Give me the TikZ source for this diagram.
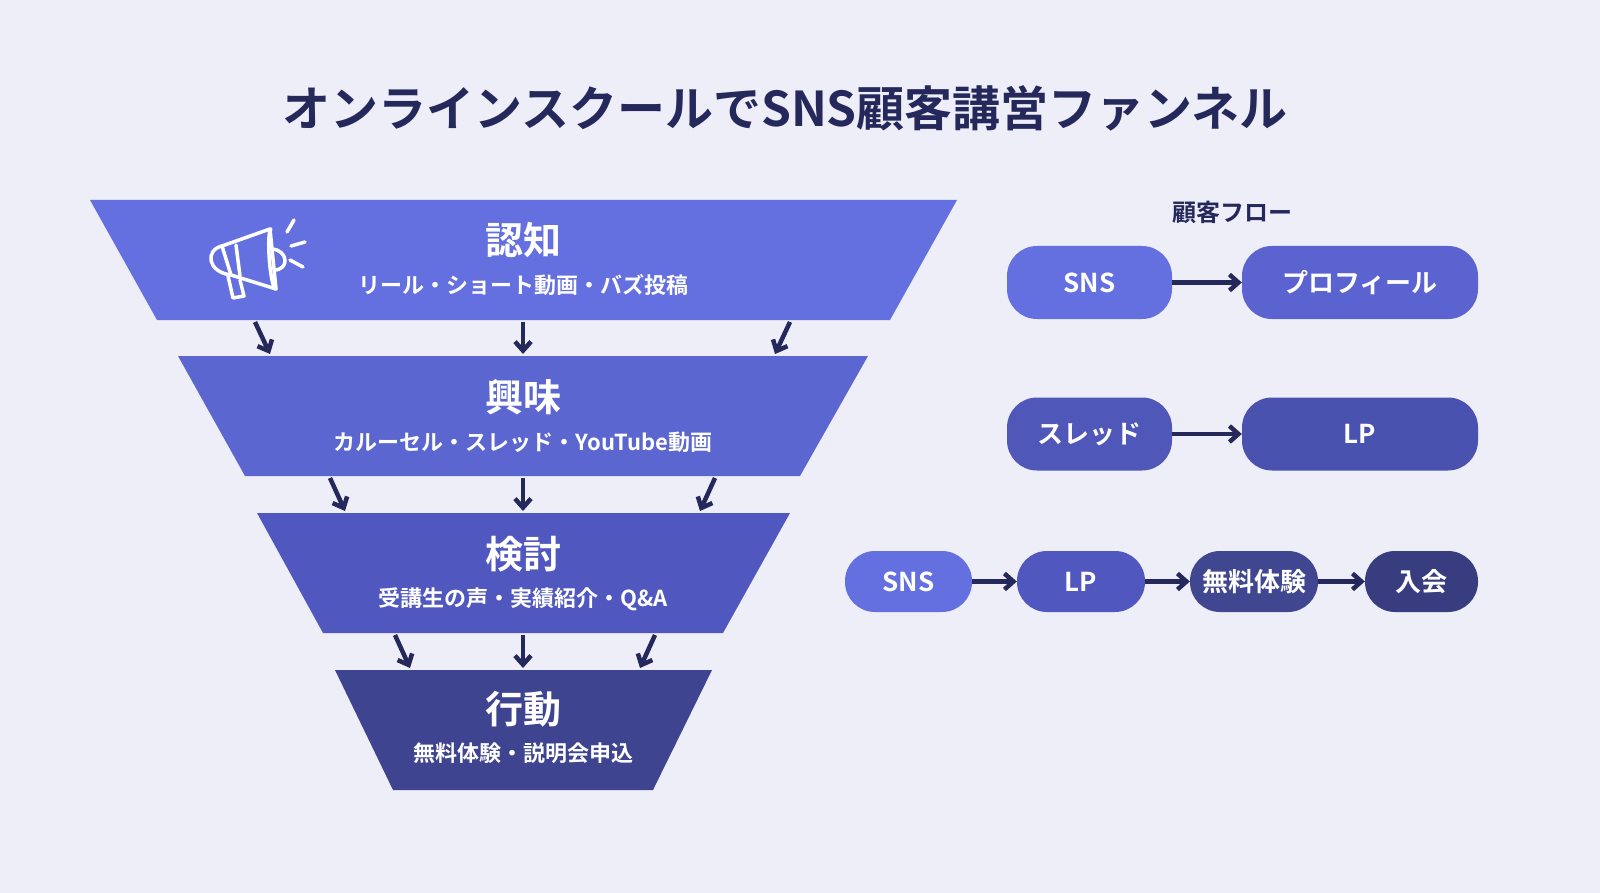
\documentclass[tikz,border=0pt]{standalone}
\usepackage{fontspec}
\setmainfont{Noto Sans CJK JP}[BoldFont={* Bold}]
\usetikzlibrary{arrows.meta}
\definecolor{bg}{HTML}{EEEEF8}
\definecolor{navy}{HTML}{25285A}
\definecolor{cA}{HTML}{6470E0}
\definecolor{cB}{HTML}{5C66D0}
\definecolor{cC}{HTML}{5058C0}
\definecolor{cD}{HTML}{3E4490}
\definecolor{pB}{HTML}{5A63D0}
\definecolor{pC}{HTML}{4F57B8}
\definecolor{pD}{HTML}{4A52B0}
\definecolor{pE}{HTML}{40468F}
\definecolor{pF}{HTML}{383D80}
\tikzset{
 ar/.style={draw=navy,line width=4.5pt,-{Straight Barb[length=9pt,width=16pt,line width=4.5pt]}},
 pill/.style={rounded corners=30pt,text=white,font=\bfseries\fontsize{26}{30}\selectfont,inner sep=0pt,minimum height=#1},
 lt/.style={text=white,font=\bfseries\fontsize{38}{42}\selectfont},
 ls/.style={text=white,font=\bfseries\fontsize{22}{26}\selectfont},
}
\begin{document}
\begin{tikzpicture}[x=1pt,y=-1pt]
\fill[bg] (0,0) rectangle (1600,893);
\useasboundingbox (0,0) rectangle (1600,893);
\node[text=navy,font=\bfseries\fontsize{48}{54}\selectfont] (title) at (785,108) {オンラインスクールでSNS顧客講営ファンネル};
% funnel
\fill[cA] (90,200) -- (957,200) -- (890,320) -- (157,320) -- cycle;
\fill[cB] (178,356) -- (868,356) -- (800,476) -- (245,476) -- cycle;
\fill[cC] (257,513) -- (790,513) -- (723,633) -- (323,633) -- cycle;
\fill[cD] (335,670) -- (712,670) -- (653,790) -- (393,790) -- cycle;
\node[lt] (t1) at (523,240) {認知};
\node[ls] (s1) at (523,285) {リール・ショート動画・バズ投稿};
\node[lt] (t2) at (523,397) {興味};
\node[ls] (s2) at (523,442) {カルーセル・スレッド・YouTube動画};
\node[lt] (t3) at (523,554) {検討};
\node[ls] (s3) at (523,599) {受講生の声・実績紹介・Q\&A};
\node[lt] (t4) at (523,709) {行動};
\node[ls] (s4) at (523,753) {無料体験・説明会申込};
% arrows
\foreach \xa/\xb/\ya/\yb in {255/270/322/354, 523/523/322/354, 790/775/322/354,
  330/345/478/511, 523/523/478/511, 715/700/478/511,
  395/410/635/668, 523/523/635/668, 655/640/635/668}
  {\coordinate (a) at (\xa,\ya); \coordinate (b) at (\xb,\yb); \draw[ar] (a) -- (b);}
% megaphone
\begin{scope}[draw=white,line width=3.5pt,line cap=round,line join=round]
\draw (222,246) -- (270,229) -- (276,289) -- (231,275) -- cycle;
\draw (222,246) .. controls (205,250) and (207,272) .. (231,275);
\draw (236,245) -- (240,276);
\draw (271,229) .. controls (266,232) and (270,289) .. (276,289);
\draw (272,249) .. controls (288,250) and (290,270) .. (274,270);
\draw (228,276) -- (233,298) -- (244,296) -- (240,280);
\draw (287,232) -- (294,220);
\draw (291,246) -- (305,242);
\draw (290,260) -- (303,267);
\end{scope}
% flow
\node[text=navy,font=\bfseries\fontsize{24}{28}\selectfont] (fh) at (1232,212) {顧客フロー};
\node[pill=73pt,fill=cA,minimum width=165pt] (p1) at (1089.5,282.5) {SNS};
\node[pill=73pt,fill=pB,minimum width=236pt] (p2) at (1360,282.5) {プロフィール};
\node[pill=73pt,fill=pC,minimum width=165pt] (p3) at (1089.5,434) {スレッド};
\node[pill=73pt,fill=pD,minimum width=236pt] (p4) at (1360,434) {LP};
\node[pill=61pt,fill=cA,minimum width=127pt] (q1) at (908.5,581.5) {SNS};
\node[pill=61pt,fill=cC,minimum width=128pt] (q2) at (1081,581.5) {LP};
\node[pill=61pt,fill=pE,minimum width=128pt] (q3) at (1254,581.5) {無料体験};
\node[pill=61pt,fill=pF,minimum width=113pt] (q4) at (1421.5,581.5) {入会};
\draw[ar] (p1) -- (p2);
\draw[ar] (p3) -- (p4);
\draw[ar] (q1) -- (q2);
\draw[ar] (q2) -- (q3);
\draw[ar] (q3) -- (q4);
\end{tikzpicture}
\end{document}
